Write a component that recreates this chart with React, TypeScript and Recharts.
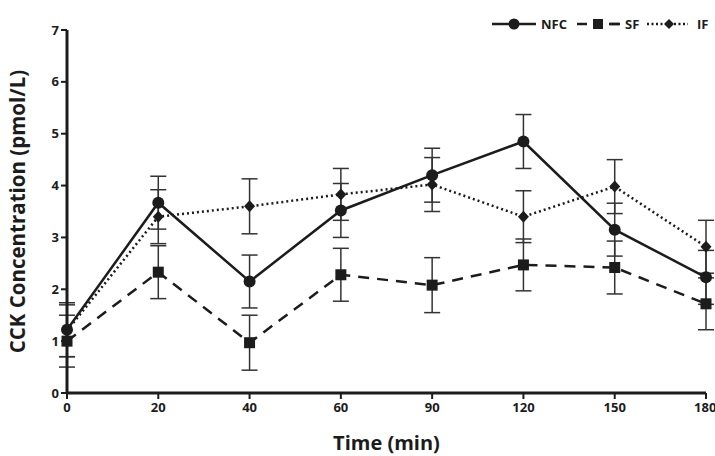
import { LineChart, Line, XAxis, YAxis, ErrorBar, Legend } from "recharts";

const times = ["0", "20", "40", "60", "90", "120", "150", "180"];
const nfc = [1.22, 3.67, 2.15, 3.52, 4.2, 4.85, 3.15, 2.23];
const nfcErr = [0.52, 0.51, 0.51, 0.52, 0.52, 0.52, 0.51, 0.52];
const sf = [1.0, 2.33, 0.97, 2.28, 2.08, 2.47, 2.42, 1.72];
const sfErr = [0.5, 0.51, 0.53, 0.51, 0.53, 0.5, 0.51, 0.5];
const ifv = [1.2, 3.4, 3.6, 3.83, 4.02, 3.4, 3.98, 2.82];
const ifErr = [0.5, 0.52, 0.53, 0.5, 0.52, 0.5, 0.52, 0.51];
const yTicks = [0, 1, 2, 3, 4, 5, 6, 7];

const data = times.map((t, i) => ({
    time: t,
    NFC: nfc[i],
    nfcErr: nfcErr[i],
    SF: sf[i],
    sfErr: sfErr[i],
    IF: ifv[i],
    ifErr: ifErr[i],
}));

const INK = "#1c1c1c";
const FONT = "'Open Sans', sans-serif";

const circleDot = (p: any) => (
    <circle key={`c-${p.index}`} cx={p.cx} cy={p.cy} r={6} fill={INK} />
);
const squareDot = (p: any) => (
    <rect key={`s-${p.index}`} x={p.cx - 5.5} y={p.cy - 5.5} width={11} height={11} fill={INK} />
);
const diamondDot = (p: any) => (
    <path
        key={`d-${p.index}`}
        d={`M${p.cx},${p.cy - 6} L${p.cx + 5.5},${p.cy} L${p.cx},${p.cy + 6} L${p.cx - 5.5},${p.cy} Z`}
        fill={INK}
    />
);

function LegendRow() {
    const txt = { fontFamily: FONT, fontWeight: 700, fontSize: 13, fill: INK };
    return (
        <svg width={230} height={20}>
            <line x1={0} y1={10} x2={44} y2={10} stroke={INK} strokeWidth={2.5} />
            <circle cx={22} cy={10} r={5.5} fill={INK} />
            <text x={49} y={15} style={txt}>NFC</text>
            <line x1={85} y1={10} x2={128} y2={10} stroke={INK} strokeWidth={2.5} strokeDasharray="10 22" />
            <line x1={118} y1={10} x2={128} y2={10} stroke={INK} strokeWidth={2.5} />
            <rect x={101} y={5} width={10} height={10} fill={INK} />
            <text x={133} y={15} style={txt}>SF</text>
            <line x1={155} y1={10} x2={196} y2={10} stroke={INK} strokeWidth={2.5} strokeDasharray="2 2.5" />
            <path d="M177,5 L182,10 L177,15 L172,10 Z" fill={INK} />
            <text x={205} y={15} style={txt}>IF</text>
        </svg>
    );
}

export default function App() {
    return (
        <div style={{ position: "absolute", left: 0, top: 0, background: "#fff" }}>
            <LineChart
                width={715}
                height={456}
                data={data}
                margin={{ top: 6, right: 9, left: 0, bottom: 0 }}
            >
                <XAxis
                    dataKey="time"
                    height={63}
                    axisLine={{ stroke: INK, strokeWidth: 3 }}
                    tickLine={{ stroke: INK, strokeWidth: 2 }}
                    tickSize={6}
                    tick={{ fill: INK, fontSize: 13, fontWeight: 700, fontFamily: FONT }}
                    tickMargin={4}
                    label={{
                        value: "Time (min)",
                        position: "insideBottom",
                        offset: 6,
                        style: { fill: INK, fontSize: 20, fontWeight: 700, fontFamily: FONT },
                    }}
                />
                <YAxis
                    domain={[0, 7]}
                    ticks={yTicks}
                    width={67}
                    axisLine={{ stroke: INK, strokeWidth: 3 }}
                    tickLine={{ stroke: INK, strokeWidth: 2 }}
                    tickSize={6}
                    interval={0}
                    tick={{ fill: INK, fontSize: 13, fontWeight: 700, fontFamily: FONT }}
                    label={{
                        value: "CCK Concentration (pmol/L)",
                        angle: -90,
                        position: "insideLeft",
                        offset: 18,
                        style: { fill: INK, fontSize: 20.5, fontWeight: 700, fontFamily: FONT, textAnchor: "middle" },
                    }}
                />
                <Legend
                    verticalAlign="top"
                    align="right"
                    wrapperStyle={{ top: 14, left: 492, width: 230 }}
                    content={() => <LegendRow />}
                />
                <Line
                    dataKey="SF"
                    stroke={INK}
                    strokeWidth={2.5}
                    strokeDasharray="11 8"
                    dot={squareDot}
                    activeDot={false}
                    isAnimationActive={false}
                >
                    <ErrorBar dataKey="sfErr" width={8} strokeWidth={1.5} stroke="#333" direction="y" />
                </Line>
                <Line
                    dataKey="IF"
                    stroke={INK}
                    strokeWidth={2.5}
                    strokeDasharray="2 3"
                    dot={diamondDot}
                    activeDot={false}
                    isAnimationActive={false}
                >
                    <ErrorBar dataKey="ifErr" width={8} strokeWidth={1.5} stroke="#333" direction="y" />
                </Line>
                <Line
                    dataKey="NFC"
                    stroke={INK}
                    strokeWidth={2.5}
                    dot={circleDot}
                    activeDot={false}
                    isAnimationActive={false}
                >
                    <ErrorBar dataKey="nfcErr" width={8} strokeWidth={1.5} stroke="#333" direction="y" />
                </Line>
            </LineChart>
        </div>
    );
}
